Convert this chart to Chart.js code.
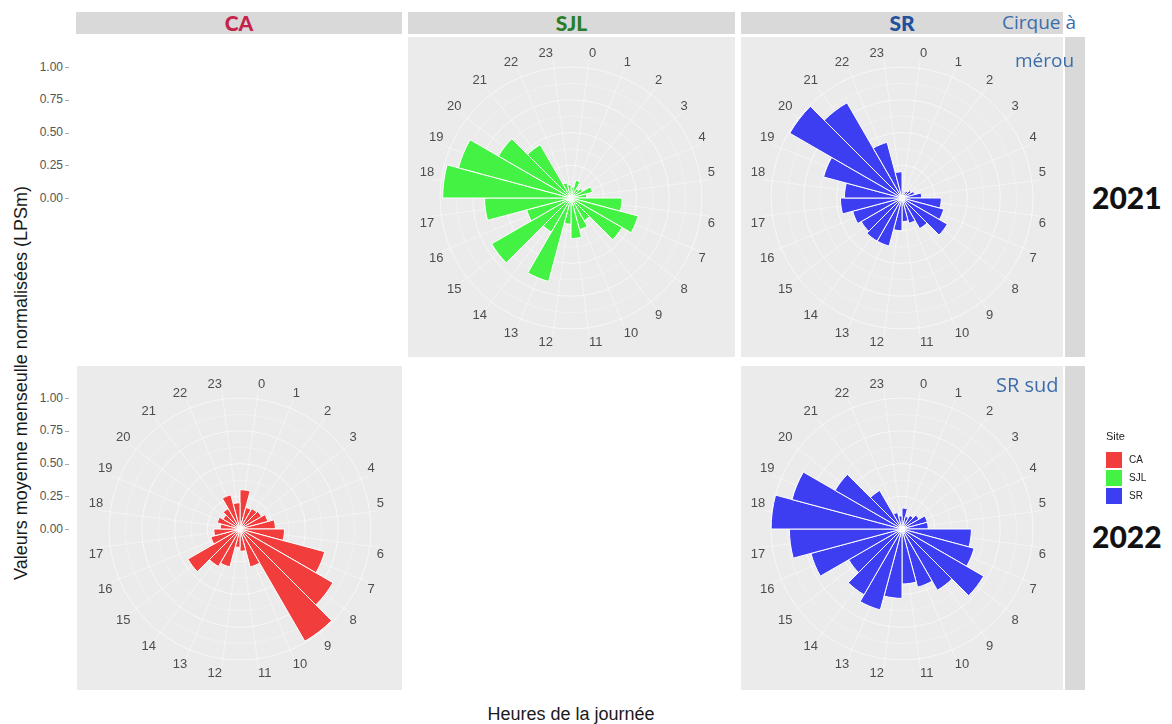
<!DOCTYPE html>
<html>
<head>
<meta charset="utf-8">
<script src="https://cdn.jsdelivr.net/npm/chart.js@4.4.1/dist/chart.umd.min.js"></script>
<style>
  html,body{margin:0;padding:0;}
  body{width:1172px;height:724px;background:#fff;position:relative;overflow:hidden;font-family:'Liberation Sans',Arial,sans-serif;}
  .panel{position:absolute;background:#ebebeb;}
  .panel canvas{position:absolute;left:0;top:0;}
  .strip{position:absolute;background:#d9d9d9;top:12px;height:22px;line-height:22px;text-align:center;font-family:Lato,'Open Sans',sans-serif;font-weight:900;font-size:21px;}
  .vstrip{position:absolute;background:#d9d9d9;left:1065px;width:20px;}
  .ytick{position:absolute;font-size:12px;color:#555555;text-align:right;width:40px;left:23px;line-height:13px;}
  .ytickmark{position:absolute;left:65px;width:4px;height:1px;background:#aaaaaa;}
  .year{position:absolute;left:1092px;font-family:Lato,'Open Sans',sans-serif;font-weight:900;font-size:30px;color:#111;line-height:32px;}
  .anno{position:absolute;font-family:'Open Sans',Lato,sans-serif;font-size:19px;color:#3d6dab;line-height:22px;}
  .legkey{position:absolute;left:1106px;width:16px;height:16px;}
  .leglab{position:absolute;left:1129px;font-size:10px;color:#222;line-height:12px;}
</style>
</head>
<body>
<div class="strip" style="left:76px;width:326px;color:#c4224a;">CA</div>
<div class="strip" style="left:408px;width:327px;color:#2b7d2b;">SJL</div>
<div class="strip" style="left:741px;width:322px;color:#21509c;">SR</div>

<div class="vstrip" style="top:37px;height:320px;"></div>
<div class="vstrip" style="top:366px;height:324px;"></div>

<div class="panel" id="p1" style="left:408px;top:37px;width:327px;height:320px;"><canvas id="c1" width="327" height="320"></canvas></div>
<div class="panel" id="p2" style="left:741px;top:37px;width:322px;height:320px;"><canvas id="c2" width="322" height="320"></canvas></div>
<div class="panel" id="p3" style="left:77px;top:366px;width:325px;height:324px;"><canvas id="c3" width="325" height="324"></canvas></div>
<div class="panel" id="p4" style="left:741px;top:366px;width:322px;height:324px;"><canvas id="c4" width="322" height="324"></canvas></div>

<div class="anno" style="left:1002px;top:11px;">Cirque à</div>
<div class="anno" style="left:1015px;top:49px;">mérou</div>
<div class="anno" style="left:996px;top:374px;font-size:20px;">SR sud</div>

<div class="year" style="top:181px;">2021</div>
<div class="year" style="top:520px;">2022</div>

<div id="yaxis"></div>

<div style="position:absolute;left:21px;top:383px;width:0;height:0;">
  <div style="position:absolute;transform:translate(-50%,-50%) rotate(-90deg);white-space:nowrap;font-size:18px;color:#1a1a1a;">Valeurs moyenne menseulle normalisées (LPSm)</div>
</div>
<div style="position:absolute;left:571px;top:704px;transform:translateX(-50%);white-space:nowrap;font-size:18px;color:#1a1a1a;">Heures de la journée</div>

<div style="position:absolute;left:1106px;top:430px;font-size:11px;color:#222;">Site</div>
<div class="legkey" style="top:452px;background:#f23d3d;"></div>
<div class="legkey" style="top:470px;background:#44f244;"></div>
<div class="legkey" style="top:488px;background:#3d3df2;"></div>
<div class="leglab" style="top:454px;">CA</div>
<div class="leglab" style="top:472px;">SJL</div>
<div class="leglab" style="top:490px;">SR</div>

<script>
// ---- data ----
const hours = ['0','1','2','3','4','5','6','7','8','9','10','11','12','13','14','15','16','17','18','19','20','21','22','23'];
const sjl2021 = [0.08,0.14,0.08,0.10,0.17,0.12,0.39,0.53,0.45,0.20,0.25,0.31,0.20,0.66,0.30,0.70,0.35,0.66,0.98,0.89,0.64,0.47,0.12,0.10];
const sr2021  = [0.06,0.05,0.06,0.08,0.10,0.15,0.30,0.33,0.40,0.27,0.20,0.18,0.25,0.38,0.38,0.36,0.39,0.47,0.44,0.62,0.99,0.84,0.44,0.20];
const ca2022  = [0.30,0.17,0.18,0.19,0.22,0.27,0.34,0.67,0.82,0.99,0.30,0.17,0.14,0.30,0.33,0.46,0.23,0.20,0.15,0.18,0.15,0.18,0.27,0.20];
const sr2022  = [0.16,0.10,0.12,0.15,0.20,0.20,0.53,0.57,0.72,0.54,0.46,0.42,0.53,0.64,0.58,0.47,0.72,0.86,1.00,0.87,0.59,0.34,0.13,0.10];
const yTickLabels = ['1.00','0.75','0.50','0.25','0.00'];
const yTickValues = [1.00,0.75,0.50,0.25,0.00];
const siteColors = {CA:'#f23d3d', SJL:'#44f244', SR:'#3d3df2'};

const R = 131;            // pixels for value 1.0
const rowCenters = [198, 529];

// left r-axis labels (two rows)
const yaxis = document.getElementById('yaxis');
rowCenters.forEach(cy => {
  yTickLabels.forEach((lab, i) => {
    const y = cy - yTickValues[i] * R;
    const d = document.createElement('div');
    d.className = 'ytick'; d.style.top = (y - 6.5) + 'px'; d.textContent = lab;
    yaxis.appendChild(d);
    const m = document.createElement('div');
    m.className = 'ytickmark'; m.style.top = Math.round(y) + 'px';
    yaxis.appendChild(m);
  });
});

const angleGrid = {
  id: 'angleGrid',
  beforeDatasetsDraw(chart) {
    const s = chart.scales.r, ctx = chart.ctx, n = chart.data.labels.length;
    ctx.save();
    ctx.strokeStyle = 'rgba(255,255,255,0.75)';
    ctx.lineWidth = 0.6;
    for (let i = 0; i < n; i++) {
      const p = s.getPointPosition(i, s.drawingArea * 1.07, Math.PI / n);
      ctx.beginPath(); ctx.moveTo(s.xCenter, s.yCenter); ctx.lineTo(p.x, p.y); ctx.stroke();
    }
    ctx.restore();
  }
};

function makeRose(canvasId, values, color, panelLeft, panelTop, cx, cy) {
  const chart = new Chart(document.getElementById(canvasId), {
    type: 'polarArea',
    data: {
      labels: hours,
      datasets: [{ data: values, backgroundColor: color, borderColor: '#ffffff', borderWidth: 1 }]
    },
    options: {
      responsive: false,
      animation: false,
      layout: { padding: { left: 0, right: 0, top: 0, bottom: 0 } },
      plugins: { legend: { display: false }, tooltip: { enabled: false } },
      scales: {
        r: {
          min: 0, max: 1,
          startAngle: 0,
          ticks: { display: false, stepSize: 0.125 },
          grid: {
            color: 'rgba(255,255,255,0.75)',
            lineWidth: ctx => (Math.abs(ctx.tick.value * 4 - Math.round(ctx.tick.value * 4)) < 1e-6 ? 0.8 : 0.4)
          },
          angleLines: { display: false },
          pointLabels: {
            display: true, centerPointLabels: true, padding: 7,
            color: '#4d4d4d', font: { family: 'Liberation Sans', size: 13 }
          }
        }
      }
    },
    plugins: [angleGrid]
  });
  const tx = cx - panelLeft, ty = cy - panelTop;
  for (let k = 0; k < 6; k++) {
    const s = chart.scales.r;
    const dR = s.drawingArea - R;
    const dx = s.xCenter - tx, dy = s.yCenter - ty;
    if (Math.abs(dR) < 0.5 && Math.abs(dx) < 0.5 && Math.abs(dy) < 0.5) break;
    const p = chart.options.layout.padding;
    p.left += dR - dx; p.right += dR + dx; p.top += dR - dy; p.bottom += dR + dy;
    chart.update('none');
  }
  return chart;
}

makeRose('c1', sjl2021, siteColors.SJL, 408, 37, 571, rowCenters[0]);
makeRose('c2', sr2021, siteColors.SR, 741, 37, 902, rowCenters[0]);
makeRose('c3', ca2022, siteColors.CA, 77, 366, 240, rowCenters[1]);
makeRose('c4', sr2022, siteColors.SR, 741, 366, 902, rowCenters[1]);
</script>
</body>
</html>
